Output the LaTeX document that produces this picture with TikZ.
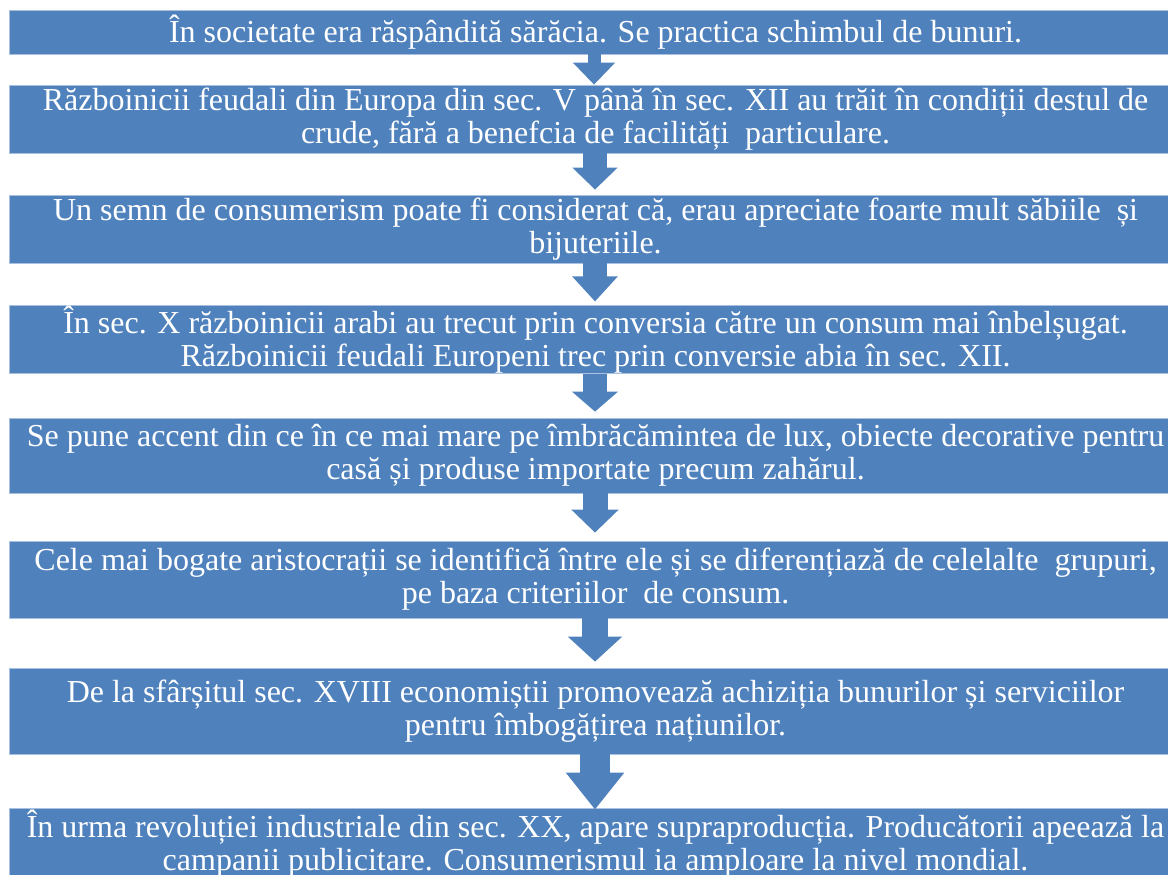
\documentclass[tikz,border=0pt]{standalone}
\usepackage{fontspec}
\setmainfont{Liberation Serif}
\usetikzlibrary{arrows.meta}
\definecolor{boxblue}{HTML}{4F81BD}
\definecolor{edgeblue}{HTML}{A9C1DF}
\tikzset{
  box/.style={rectangle, fill=boxblue, draw=edgeblue, line width=0.8pt,
    text=white, align=center, inner sep=0pt, minimum width=1173pt,
    font=\fontsize{32}{33}\selectfont},
  blockarrow/.style n args={3}{draw=boxblue, line width=#1pt,
    -{Triangle[width=#2pt,length=#3pt]}}
}
\begin{document}
\begin{tikzpicture}[x=1pt,y=-1pt]
\useasboundingbox (0,0) rectangle (1168,875);
\node[box, minimum height=44pt] (b1) at (595.5,32)
  {În societate era răspândită sărăcia. Se practica schimbul de bunuri.};
\node[box, minimum height=68pt] (b2) at (595.5,119)
  {Războinicii feudali din Europa din sec. V până în sec. XII au trăit în condiții destul de\\crude, fără a benefcia de facilități\ \ particulare.};
\node[box, minimum height=68pt] (b3) at (595.5,229)
  {Un semn de consumerism poate fi considerat că, erau apreciate foarte mult săbiile\ \ și\\bijuteriile.};
\node[box, minimum height=67pt] (b4) at (595.5,339.5)
  {În sec. X războinicii arabi au trecut prin conversia către un consum mai înbelșugat.\\Războinicii feudali Europeni trec prin conversie abia în sec. XII.};
\node[box, minimum height=75pt] (b5) at (595.5,455.5)
  {Se pune accent din ce în ce mai mare pe îmbrăcămintea de lux, obiecte decorative pentru\\casă și produse importate precum zahărul.};
\node[box, minimum height=77pt] (b6) at (595.5,579.5)
  {Cele mai bogate aristocrații se identifică între ele și se diferențiază de celelalte\ \ grupuri,\\pe baza criteriilor\ \ de consum.};
\node[box, minimum height=86pt] (b7) at (595.5,711)
  {De la sfârșitul sec. XVIII economiștii promovează achiziția bunurilor și serviciilor\\pentru îmbogățirea națiunilor.};
\node[box, minimum height=72pt] (b8) at (595.5,844)
  {În urma revoluției industriale din sec. XX, apare supraproducția. Producătorii apeează la\\campanii publicitare. Consumerismul ia amploare la nivel mondial.};

\draw[blockarrow={13}{41}{22}] ([xshift=-1.5pt]b1.south) -- ([xshift=-1.5pt]b2.north);
\draw[blockarrow={24}{44}{22}] ([xshift=-0.5pt]b2.south) -- ([xshift=-0.5pt,yshift=5pt]b3.north);
\draw[blockarrow={24}{44}{25}] ([xshift=-0.5pt]b3.south) -- ([xshift=-0.5pt,yshift=4pt]b4.north);
\draw[blockarrow={24}{45}{20}] ([xshift=-0.5pt]b4.south) -- ([xshift=-0.5pt,yshift=6pt]b5.north);
\draw[blockarrow={25}{46}{23}] ([xshift=-0.5pt]b5.south) -- ([xshift=-0.5pt,yshift=8pt]b6.north);
\draw[blockarrow={26}{53}{25}] ([xshift=-0.5pt]b6.south) -- ([xshift=-0.5pt,yshift=6pt]b7.north);
\draw[blockarrow={30}{56}{37}] ([xshift=-0.5pt]b7.south) -- ([xshift=-0.5pt,yshift=-2pt]b8.north);
\end{tikzpicture}
\end{document}
